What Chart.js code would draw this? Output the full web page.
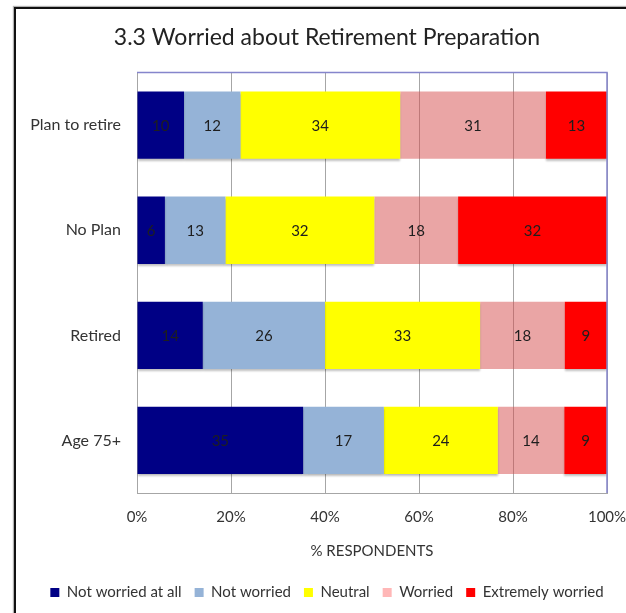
<!DOCTYPE html>
<html>
<head>
<meta charset="utf-8">
<script src="https://cdn.jsdelivr.net/npm/chart.js@4.4.1/dist/chart.umd.min.js"></script>
<style>
    html, body { margin: 0; padding: 0; background: #fff; }
    #wrap { position: relative; width: 626px; height: 613px; overflow: hidden; }
    #frame {
        position: absolute; left: 14px; top: 7px; width: 700px; height: 700px;
        border-left: 2px solid #111; border-top: 2px solid #111;
        box-shadow: -1px -1px 1px rgba(0,0,0,0.3);
    }
    #myChart { position: absolute; left: 0; top: 0; }
</style>
</head>
<body>
<div id="wrap">
    <div id="frame"></div>
    <canvas id="myChart" width="626" height="613"></canvas>
</div>
<script>
// categories (top to bottom) and the values printed in each segment
const categories = ["Plan to retire", "No Plan", "Retired", "Age 75+"];
const notWorriedAtAll = [10, 6, 14, 35];
const notWorried = [12, 13, 26, 17];
const neutral = [34, 32, 33, 24];
const worried = [31, 18, 18, 14];
const extremelyWorried = [13, 32, 9, 9];
const seriesNames = ["Not worried at all", "Not worried", "Neutral", "Worried", "Extremely worried"];
const seriesColors = ["#000085", "#95B3D7", "#FFFF00", "rgba(214, 76, 76, 0.5)", "#FF0000"];
const legendColors = ["#000085", "#95B3D7", "#FFFF00", "#FFB7B7", "#FF0000"];
const xTicks = [0, 20, 40, 60, 80, 100];

const allSeries = [notWorriedAtAll, notWorried, neutral, worried, extremelyWorried];

// each bar is a 100% stack, so scale every row by its own total
const rowTotals = categories.map((c, i) => allSeries.reduce((sum, s) => sum + s[i], 0));

const FONT = "Lato, 'Open Sans', sans-serif";

const segmentLabels = {
    id: "segmentLabels",
    afterDatasetsDraw(chart) {
        const ctx = chart.ctx;
        ctx.save();
        ctx.font = `15px ${FONT}`;
        ctx.fillStyle = "#1e1e1e";
        ctx.textAlign = "center";
        ctx.textBaseline = "middle";
        chart.data.datasets.forEach((ds, dsIndex) => {
            const meta = chart.getDatasetMeta(dsIndex);
            meta.data.forEach((bar, i) => {
                const x = (bar.x + bar.base) / 2;
                ctx.fillText(String(ds.rawValues[i]), x, bar.y + 1);
            });
        });
        ctx.restore();
    },
};

const plotBorder = {
    id: "plotBorder",
    afterDatasetsDraw(chart) {
        const { ctx, chartArea } = chart;
        ctx.save();
        ctx.strokeStyle = "#8585CC";
        ctx.lineWidth = 1.5;
        ctx.beginPath();
        ctx.moveTo(chartArea.left, chartArea.top);
        ctx.lineTo(chartArea.right, chartArea.top);
        ctx.lineTo(chartArea.right, chartArea.bottom);
        ctx.stroke();
        ctx.restore();
    },
};

// soft shadow under the opaque segments (not under the see-through pink one)
const barShadow = {
    id: "barShadow",
    beforeDatasetDraw(chart, args) {
        const ctx = chart.ctx;
        ctx.save();
        if (args.index !== 3) {
            ctx.shadowColor = "rgba(0, 0, 0, 0.25)";
            ctx.shadowOffsetX = 0;
            ctx.shadowOffsetY = 2;
            ctx.shadowBlur = 2;
        }
    },
    afterDatasetDraw(chart) {
        chart.ctx.restore();
    },
};

const datasets = allSeries.map((values, s) => ({
    label: seriesNames[s],
    data: values.map((v, i) => (v / rowTotals[i]) * 100),
    rawValues: values,
    backgroundColor: seriesColors[s],
    borderWidth: 0,
    barPercentage: 0.64,
    categoryPercentage: 1,
}));

new Chart(document.getElementById("myChart"), {
    type: "bar",
    data: { labels: categories, datasets: datasets },
    plugins: [barShadow, segmentLabels, plotBorder],
    options: {
        indexAxis: "y",
        responsive: false,
        animation: false,
        layout: { padding: { left: 28, right: 0, top: 8, bottom: 3 } },
        scales: {
            x: {
                stacked: true,
                min: 0,
                max: 100,
                afterBuildTicks(scale) {
                    scale.ticks = xTicks.map((v) => ({ value: v }));
                },
                afterFit(scale) {
                    scale.height = 79;
                    scale.paddingRight = 19;
                },
                grid: { color: "#A6A6A6", lineWidth: 1, drawTicks: false },
                border: { color: "#A6A6A6" },
                ticks: {
                    padding: 15,
                    color: "#333",
                    font: { family: FONT, size: 15 },
                    callback: (v) => v + "%",
                },
                title: {
                    display: true,
                    text: "% RESPONDENTS",
                    color: "#333",
                    font: { family: FONT, size: 15 },
                    padding: { top: 0, bottom: 12 },
                },
            },
            y: {
                stacked: true,
                afterFit(scale) {
                    scale.width = 109;
                    // let long labels run left of the axis box
                    scale._computeLabelArea = () => null;
                },
                grid: { display: false, drawTicks: false },
                border: { color: "#A6A6A6" },
                ticks: {
                    padding: 16,
                    color: "#333",
                    font: { family: FONT, size: 16 },
                },
            },
        },
        plugins: {
            title: {
                display: true,
                text: "3.3 Worried about Retirement Preparation",
                color: "#222",
                font: { family: FONT, size: 23, weight: "normal" },
                padding: { top: 16, bottom: 21 },
            },
            legend: {
                position: "bottom",
                labels: {
                    boxWidth: 9,
                    boxHeight: 9,
                    padding: 13,
                    color: "#333",
                    font: { family: FONT, size: 15 },
                    generateLabels(chart) {
                        const items = Chart.defaults.plugins.legend.labels.generateLabels(chart);
                        items.forEach((item, i) => {
                            item.fillStyle = legendColors[i];
                        });
                        return items;
                    },
                },
            },
            tooltip: { enabled: false },
        },
    },
});
</script>
</body>
</html>
